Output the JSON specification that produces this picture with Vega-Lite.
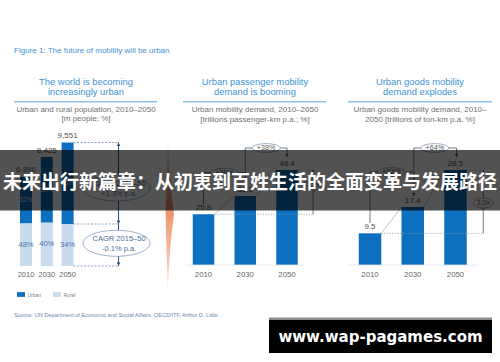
{
"$schema":"https://vega.github.io/schema/vega-lite/v6.json",
"width":500,"height":362,
"autosize":{"type":"fit","contains":"padding"},
"padding":0,
"background":"#ffffff",
"config":{"view":{"stroke":null},"font":"Liberation Sans"},
"datasets":{
 "pop":[
  {"year":2010,"area":"Rural","value":3310,"share":"48%","ord":1},
  {"year":2010,"area":"Urban","value":3586,"share":"52%","ord":2},
  {"year":2030,"area":"Rural","value":3370,"share":"40%","ord":1},
  {"year":2030,"area":"Urban","value":5055,"share":"60%","ord":2},
  {"year":2050,"area":"Rural","value":3247,"share":"34%","ord":1},
  {"year":2050,"area":"Urban","value":6304,"share":"66%","ord":2}
 ],
 "popTotal":[{"year":2010,"total":6896},{"year":2030,"total":8425},{"year":2050,"total":9551}],
 "passenger":[{"year":2010,"value":25.8},{"year":2030,"value":35.1},{"year":2050,"value":48.4}],
 "goods":[{"year":2010,"value":9.5},{"year":2030,"value":17.4},{"year":2050,"value":28.5}]
},
"resolve":{"scale":{"x":"independent","y":"independent","color":"independent"}},
"layer":[
 {"data":{"values":[{}]},
  "layer":[
   {"mark":{"type":"text","text":"Figure 1: The future of mobility will be urban","align":"left","baseline":"middle","fontSize":8,"fill":"#3d94d4"},
    "encoding":{"x":{"datum":14,"type":"quantitative","scale":{"domain":[0,500],"nice":false,"zero":false},"axis":null},
                "y":{"datum":50.5,"type":"quantitative","scale":{"domain":[0,362],"reverse":true,"nice":false,"zero":false},"axis":null}}},
   {"mark":{"type":"text","text":["The world is becoming","increasingly urban"],"align":"center","baseline":"middle","fontSize":9.4,"lineHeight":10.8,"fill":"#3d94d4"},
    "encoding":{"x":{"datum":86,"type":"quantitative","axis":null},"y":{"datum":81.7,"type":"quantitative","axis":null}}},
   {"mark":{"type":"text","text":["Urban passenger mobility","demand is booming"],"align":"center","baseline":"middle","fontSize":9.4,"lineHeight":10.8,"fill":"#3d94d4"},
    "encoding":{"x":{"datum":255,"type":"quantitative","axis":null},"y":{"datum":81.7,"type":"quantitative","axis":null}}},
   {"mark":{"type":"text","text":["Urban goods mobility","demand explodes"],"align":"center","baseline":"middle","fontSize":9.4,"lineHeight":10.8,"fill":"#3d94d4"},
    "encoding":{"x":{"datum":420,"type":"quantitative","axis":null},"y":{"datum":81.7,"type":"quantitative","axis":null}}},
   {"mark":{"type":"rule","stroke":"#8fc3ea","strokeWidth":1.4},
    "encoding":{"x":{"datum":14,"type":"quantitative","axis":null},"x2":{"datum":157},"y":{"datum":101.7,"type":"quantitative","axis":null}}},
   {"mark":{"type":"rule","stroke":"#8fc3ea","strokeWidth":1.4},
    "encoding":{"x":{"datum":183,"type":"quantitative","axis":null},"x2":{"datum":326},"y":{"datum":101.7,"type":"quantitative","axis":null}}},
   {"mark":{"type":"rule","stroke":"#8fc3ea","strokeWidth":1.4},
    "encoding":{"x":{"datum":348,"type":"quantitative","axis":null},"x2":{"datum":492},"y":{"datum":101.7,"type":"quantitative","axis":null}}},
   {"mark":{"type":"text","text":["Urban and rural population, 2010–2050","[m people; %]"],"align":"center","baseline":"middle","fontSize":8,"lineHeight":9.3,"fill":"#707070"},
    "encoding":{"x":{"datum":86,"type":"quantitative","axis":null},"y":{"datum":110,"type":"quantitative","axis":null}}},
   {"mark":{"type":"text","text":["Urban mobility demand, 2010–2050","[trillions passenger-km p.a.; %]"],"align":"center","baseline":"middle","fontSize":8,"lineHeight":9.8,"fill":"#707070"},
    "encoding":{"x":{"datum":255,"type":"quantitative","axis":null},"y":{"datum":110,"type":"quantitative","axis":null}}},
   {"mark":{"type":"text","text":["Urban goods mobility demand, 2010–","2050 [trillions of ton-km p.a. %]"],"align":"center","baseline":"middle","fontSize":8,"lineHeight":10.2,"fill":"#707070"},
    "encoding":{"x":{"datum":420,"type":"quantitative","axis":null},"y":{"datum":110,"type":"quantitative","axis":null}}},
   {"mark":{"type":"text","text":"Source: UN Department of Economic and Social Affairs, OECD/ITF,  Arthur D. Little","align":"left","baseline":"middle","fontSize":5.6,"fill":"#6a88ad"},
    "encoding":{"x":{"datum":14,"type":"quantitative","axis":null},"y":{"datum":315,"type":"quantitative","axis":null}}},
   {"mark":{"type":"point","shape":"M -0.02 -1 C 0 -0.4 0.05 -0.1 0.06 0 C 0.05 0.1 0 0.4 -0.02 1 C -0.04 0.4 -0.05 0.1 -0.05 0 C -0.05 -0.1 -0.04 -0.4 -0.02 -1 Z","size":23104,"filled":true,"opacity":1,"strokeWidth":0,
     "fill":{"gradient":"linear","x1":0,"y1":0,"x2":0,"y2":1,"stops":[{"offset":0,"color":"#fdf0e8"},{"offset":0.45,"color":"#ef8f66"},{"offset":1,"color":"#fbe0d0"}]}},
    "encoding":{"x":{"datum":169.5,"type":"quantitative","axis":null},"y":{"datum":214,"type":"quantitative","axis":null}}}
  ]},
 {"layer":[
   {"data":{"name":"pop"},
    "transform":[{"stack":"value","groupby":["year"],"sort":[{"field":"ord","order":"ascending"}],"as":["v0","v1"]}],
    "mark":{"type":"bar","size":12},
    "encoding":{
     "x":{"field":"year","type":"quantitative","scale":{"domain":[2010,2050],"range":[26,67.6],"padding":0,"nice":false,"zero":false},"axis":null},
     "y":{"field":"v0","type":"quantitative","scale":{"domain":[0,9551],"range":[266,142.5],"padding":0,"nice":false,"zero":false},"axis":null},
     "y2":{"field":"v1"},
     "color":{"field":"area","type":"nominal","scale":{"domain":["Urban","Rural"],"range":["#0c6fbf","#c8dcf0"]},
      "legend":{"orient":"none","legendX":17,"legendY":290.5,"direction":"horizontal","title":null,"symbolType":"M -1 -0.6 L 1 -0.6 L 1 0.6 L -1 0.6 Z","symbolSize":64,"symbolStrokeWidth":0,"symbolOpacity":1,"labelFontSize":5,"labelColor":"#808080","labelFont":"Liberation Sans","labelOffset":2.5,"columnPadding":11,"padding":0}}}},
   {"data":{"name":"pop"},
    "transform":[{"stack":"value","groupby":["year"],"sort":[{"field":"ord","order":"ascending"}],"as":["v0","v1"]},{"calculate":"(datum.v0+datum.v1)/2","as":"mid"}],
    "mark":{"type":"text","fontSize":7.6,"baseline":"middle","align":"center"},
    "encoding":{"x":{"field":"year","type":"quantitative","axis":null},"y":{"field":"mid","type":"quantitative","axis":null},
     "text":{"field":"share","type":"nominal"},
     "fill":{"condition":{"test":"datum.area === 'Urban'","value":"#d2e3f4"},"value":"#4f74a0"}}},
   {"data":{"name":"popTotal"},
    "mark":{"type":"text","fontSize":8,"baseline":"bottom","dy":-2.5,"fill":"#555555"},
    "encoding":{"x":{"field":"year","type":"quantitative","axis":null},"y":{"field":"total","type":"quantitative","axis":null},"text":{"field":"total","type":"quantitative","format":","}}},
   {"data":{"name":"popTotal"},
    "mark":{"type":"text","fontSize":7.5,"baseline":"middle","dy":9,"fill":"#666666"},
    "encoding":{"x":{"field":"year","type":"quantitative","axis":null},"y":{"datum":0,"type":"quantitative","axis":null},"text":{"field":"year","type":"nominal"}}},
   {"data":{"values":[{}]},"mark":{"type":"rule","stroke":"#6f8db0","strokeWidth":0.8,"strokeDash":[2,1.5]},
    "encoding":{"x":{"datum":2055.8,"type":"quantitative","axis":null},"x2":{"datum":2099},"y":{"datum":9551,"type":"quantitative","axis":null}}},
   {"data":{"values":[{}]},"mark":{"type":"rule","stroke":"#6f8db0","strokeWidth":0.8,"strokeDash":[2,1.5]},
    "encoding":{"x":{"datum":2055.8,"type":"quantitative","axis":null},"x2":{"datum":2099},"y":{"datum":3247,"type":"quantitative","axis":null}}},
   {"data":{"values":[{}]},"mark":{"type":"rule","stroke":"#6f8db0","strokeWidth":0.8,"strokeDash":[2,1.5]},
    "encoding":{"x":{"datum":2055.8,"type":"quantitative","axis":null},"x2":{"datum":2099},"y":{"datum":0,"type":"quantitative","axis":null}}},
   {"data":{"values":[{}]},"mark":{"type":"rule","stroke":"#24507e","strokeWidth":1},
    "encoding":{"x":{"datum":2099,"type":"quantitative","axis":null},"y":{"datum":0,"type":"quantitative","axis":null},"y2":{"datum":9551}}},
   {"data":{"values":[{}]},"mark":{"type":"point","shape":"triangle-up","size":14,"filled":true,"fill":"#24507e","opacity":1,"yOffset":2},
    "encoding":{"x":{"datum":2099,"type":"quantitative","axis":null},"y":{"datum":9551,"type":"quantitative","axis":null}}},
   {"data":{"values":[{}]},"mark":{"type":"point","shape":"triangle-down","size":14,"filled":true,"fill":"#24507e","opacity":1,"yOffset":-2},
    "encoding":{"x":{"datum":2099,"type":"quantitative","axis":null},"y":{"datum":3247,"type":"quantitative","axis":null}}},
   {"data":{"values":[{}]},"mark":{"type":"point","shape":"triangle-down","size":14,"filled":true,"fill":"#24507e","opacity":1,"yOffset":-2},
    "encoding":{"x":{"datum":2099,"type":"quantitative","axis":null},"y":{"datum":0,"type":"quantitative","axis":null}}},
   {"data":{"values":[{}]},"mark":{"type":"point","shape":"M -1 0 C -1 -0.214 -0.552 -0.388 0 -0.388 C 0.552 -0.388 1 -0.214 1 0 C 1 0.214 0.552 0.388 0 0.388 C -0.552 0.388 -1 0.214 -1 0 Z","size":4489,"filled":true,"fill":"#ffffff","stroke":"#7f9bbb","strokeWidth":0.8,"opacity":1},
    "encoding":{"x":{"datum":2097,"type":"quantitative","axis":null},"y":{"datum":6032,"type":"quantitative","axis":null}}},
   {"data":{"values":[{}]},"mark":{"type":"point","shape":"M -1 0 C -1 -0.214 -0.552 -0.388 0 -0.388 C 0.552 -0.388 1 -0.214 1 0 C 1 0.214 0.552 0.388 0 0.388 C -0.552 0.388 -1 0.214 -1 0 Z","size":4489,"filled":true,"fill":"#ffffff","stroke":"#7f9bbb","strokeWidth":0.8,"opacity":1},
    "encoding":{"x":{"datum":2097,"type":"quantitative","axis":null},"y":{"datum":1755,"type":"quantitative","axis":null}}},
   {"data":{"values":[{}]},"mark":{"type":"text","text":["CAGR 2015–50","+1.3% p.a."],"fontSize":7.5,"lineHeight":10,"baseline":"middle","align":"center","fill":"#4d6f95"},
    "encoding":{"x":{"datum":2099.5,"type":"quantitative","axis":null},"y":{"datum":6380,"type":"quantitative","axis":null}}},
   {"data":{"values":[{}]},"mark":{"type":"text","text":["CAGR 2015–50","-0.1% p.a."],"fontSize":7.5,"lineHeight":10,"baseline":"middle","align":"center","fill":"#4d6f95"},
    "encoding":{"x":{"datum":2099.5,"type":"quantitative","axis":null},"y":{"datum":2088,"type":"quantitative","axis":null}}}
 ]},
 {"layer":[
   {"data":{"name":"passenger"},"mark":{"type":"bar","size":21.5,"color":"#0c6fbf"},
    "encoding":{"x":{"field":"year","type":"quantitative","scale":{"domain":[2010,2050],"range":[203.5,287],"padding":0,"nice":false,"zero":false},"axis":null},
     "y":{"field":"value","type":"quantitative","scale":{"domain":[0,48.4],"range":[265,170],"padding":0,"nice":false,"zero":false},"axis":null}}},
   {"data":{"name":"passenger"},"mark":{"type":"text","fontSize":8,"baseline":"bottom","dy":-2.5,"fill":"#555555"},
    "encoding":{"x":{"field":"year","type":"quantitative","axis":null},"y":{"field":"value","type":"quantitative","axis":null},"text":{"field":"value","type":"quantitative"}}},
   {"data":{"name":"passenger"},"mark":{"type":"text","fontSize":7.8,"baseline":"middle","dy":10,"fill":"#666666"},
    "encoding":{"x":{"field":"year","type":"quantitative","axis":null},"y":{"datum":0,"type":"quantitative","axis":null},"text":{"field":"year","type":"nominal"}}},
   {"data":{"values":[{}]},"mark":{"type":"rule","stroke":"#dde3ea","strokeWidth":0.8},
    "encoding":{"x":{"datum":2001.6,"type":"quantitative","axis":null},"x2":{"datum":2058.6},"y":{"datum":0,"type":"quantitative","axis":null}}},
   {"data":{"values":[{}]},"mark":{"type":"rule","stroke":"#a5a5a5","strokeWidth":0.7},
    "encoding":{"x":{"datum":2015.15,"type":"quantitative","axis":null},"x2":{"datum":2024.85},"y":{"datum":25.8,"type":"quantitative","axis":null},"y2":{"datum":35.1}}},
   {"data":{"values":[{}]},"mark":{"type":"rule","stroke":"#a5a5a5","strokeWidth":0.7},
    "encoding":{"x":{"datum":2035.15,"type":"quantitative","axis":null},"x2":{"datum":2044.85},"y":{"datum":35.1,"type":"quantitative","axis":null},"y2":{"datum":48.4}}},
   {"data":{"values":[{}]},"mark":{"type":"rule","stroke":"#8d9aab","strokeWidth":0.8,"strokeDash":[1.2,1.5]},
    "encoding":{"x":{"datum":2015.15,"type":"quantitative","axis":null},"x2":{"datum":2062.5},"y":{"datum":25.8,"type":"quantitative","axis":null}}},
   {"data":{"values":[{}]},"mark":{"type":"rule","stroke":"#8d9aab","strokeWidth":0.8,"strokeDash":[1.2,1.5]},
    "encoding":{"x":{"datum":2055.15,"type":"quantitative","axis":null},"x2":{"datum":2062.5},"y":{"datum":48.4,"type":"quantitative","axis":null}}},
   {"data":{"values":[{}]},"mark":{"type":"rule","stroke":"#4a5868","strokeWidth":0.8},
    "encoding":{"x":{"datum":2062.5,"type":"quantitative","axis":null},"y":{"datum":25.8,"type":"quantitative","axis":null},"y2":{"datum":48.4}}},
   {"data":{"values":[{}]},"mark":{"type":"point","shape":"triangle-up","size":12,"filled":true,"fill":"#4a5868","opacity":1,"yOffset":2},
    "encoding":{"x":{"datum":2062.5,"type":"quantitative","axis":null},"y":{"datum":48.4,"type":"quantitative","axis":null}}},
   {"data":{"values":[{}]},"mark":{"type":"rule","stroke":"#4a5868","strokeWidth":0.8},
    "encoding":{"x":{"datum":2010,"type":"quantitative","axis":null},"y":{"datum":31,"type":"quantitative","axis":null},"y2":{"datum":47.1}}},
   {"data":{"values":[{}]},"mark":{"type":"rule","stroke":"#4a5868","strokeWidth":0.8},
    "encoding":{"x":{"datum":2010,"type":"quantitative","axis":null},"x2":{"datum":2030},"y":{"datum":47.1,"type":"quantitative","axis":null}}},
   {"data":{"values":[{}]},"mark":{"type":"rule","stroke":"#4a5868","strokeWidth":0.8},
    "encoding":{"x":{"datum":2030,"type":"quantitative","axis":null},"y":{"datum":42,"type":"quantitative","axis":null},"y2":{"datum":59.6}}},
   {"data":{"values":[{}]},"mark":{"type":"rule","stroke":"#4a5868","strokeWidth":0.8},
    "encoding":{"x":{"datum":2030,"type":"quantitative","axis":null},"x2":{"datum":2050},"y":{"datum":59.6,"type":"quantitative","axis":null}}},
   {"data":{"values":[{}]},"mark":{"type":"rule","stroke":"#4a5868","strokeWidth":0.8},
    "encoding":{"x":{"datum":2050,"type":"quantitative","axis":null},"y":{"datum":55,"type":"quantitative","axis":null},"y2":{"datum":59.6}}},
   {"data":{"values":[{}]},"mark":{"type":"point","shape":"triangle-down","size":12,"filled":true,"fill":"#4a5868","opacity":1,"yOffset":-1.5},
    "encoding":{"x":{"datum":2050,"type":"quantitative","axis":null},"y":{"datum":55,"type":"quantitative","axis":null}}},
   {"data":{"values":[{}]},"mark":{"type":"point","shape":"triangle-down","size":12,"filled":true,"fill":"#4a5868","opacity":1,"yOffset":-1.5},
    "encoding":{"x":{"datum":2030,"type":"quantitative","axis":null},"y":{"datum":42,"type":"quantitative","axis":null}}},
   {"data":{"values":[{}]},"mark":{"type":"point","shape":"M -1 0 C -1 -0.171 -0.552 -0.31 0 -0.31 C 0.552 -0.31 1 -0.171 1 0 C 1 0.171 0.552 0.31 0 0.31 C -0.552 0.31 -1 0.171 -1 0 Z","size":784,"filled":true,"fill":"#ffffff","stroke":"#7f9bbb","strokeWidth":0.8,"opacity":1},
    "encoding":{"x":{"datum":2020,"type":"quantitative","axis":null},"y":{"datum":47.1,"type":"quantitative","axis":null}}},
   {"data":{"values":[{}]},"mark":{"type":"point","shape":"M -1 0 C -1 -0.171 -0.552 -0.31 0 -0.31 C 0.552 -0.31 1 -0.171 1 0 C 1 0.171 0.552 0.31 0 0.31 C -0.552 0.31 -1 0.171 -1 0 Z","size":784,"filled":true,"fill":"#ffffff","stroke":"#7f9bbb","strokeWidth":0.8,"opacity":1},
    "encoding":{"x":{"datum":2040,"type":"quantitative","axis":null},"y":{"datum":59.6,"type":"quantitative","axis":null}}},
   {"data":{"values":[{}]},"mark":{"type":"point","shape":"M -1 0 C -1 -0.276 -0.552 -0.5 0 -0.5 C 0.552 -0.5 1 -0.276 1 0 C 1 0.276 0.552 0.5 0 0.5 C -0.552 0.5 -1 0.276 -1 0 Z","size":400,"filled":true,"fill":"#ffffff","stroke":"#7f9bbb","strokeWidth":0.8,"opacity":1},
    "encoding":{"x":{"datum":2062.5,"type":"quantitative","axis":null},"y":{"datum":40.8,"type":"quantitative","axis":null}}},
   {"data":{"values":[{}]},"mark":{"type":"text","text":"+36%","fontSize":7.2,"baseline":"middle","align":"center","fill":"#555555"},
    "encoding":{"x":{"datum":2020,"type":"quantitative","axis":null},"y":{"datum":47.1,"type":"quantitative","axis":null}}},
   {"data":{"values":[{}]},"mark":{"type":"text","text":"+38%","fontSize":7.2,"baseline":"middle","align":"center","fill":"#555555"},
    "encoding":{"x":{"datum":2040,"type":"quantitative","axis":null},"y":{"datum":59.6,"type":"quantitative","axis":null}}},
   {"data":{"values":[{}]},"mark":{"type":"text","text":"1.9x","fontSize":7.2,"baseline":"middle","align":"center","fill":"#555555"},
    "encoding":{"x":{"datum":2062.5,"type":"quantitative","axis":null},"y":{"datum":40.8,"type":"quantitative","axis":null}}}
 ]},
 {"layer":[
   {"data":{"name":"goods"},"mark":{"type":"bar","size":22.5,"color":"#0c6fbf"},
    "encoding":{"x":{"field":"year","type":"quantitative","scale":{"domain":[2010,2050],"range":[370,455.5],"padding":0,"nice":false,"zero":false},"axis":null},
     "y":{"field":"value","type":"quantitative","scale":{"domain":[0,28.5],"range":[265,170],"padding":0,"nice":false,"zero":false},"axis":null}}},
   {"data":{"name":"goods"},"mark":{"type":"text","fontSize":8,"baseline":"bottom","dy":-2.5,"fill":"#555555"},
    "encoding":{"x":{"field":"year","type":"quantitative","axis":null},"y":{"field":"value","type":"quantitative","axis":null},"text":{"field":"value","type":"quantitative"}}},
   {"data":{"name":"goods"},"mark":{"type":"text","fontSize":7.8,"baseline":"middle","dy":10,"fill":"#666666"},
    "encoding":{"x":{"field":"year","type":"quantitative","axis":null},"y":{"datum":0,"type":"quantitative","axis":null},"text":{"field":"year","type":"nominal"}}},
   {"data":{"values":[{}]},"mark":{"type":"rule","stroke":"#dde3ea","strokeWidth":0.8},
    "encoding":{"x":{"datum":1999.7,"type":"quantitative","axis":null},"x2":{"datum":2060.5},"y":{"datum":0,"type":"quantitative","axis":null}}},
   {"data":{"values":[{}]},"mark":{"type":"rule","stroke":"#a5a5a5","strokeWidth":0.7},
    "encoding":{"x":{"datum":2015.26,"type":"quantitative","axis":null},"x2":{"datum":2024.74},"y":{"datum":9.5,"type":"quantitative","axis":null},"y2":{"datum":17.4}}},
   {"data":{"values":[{}]},"mark":{"type":"rule","stroke":"#a5a5a5","strokeWidth":0.7},
    "encoding":{"x":{"datum":2035.26,"type":"quantitative","axis":null},"x2":{"datum":2044.74},"y":{"datum":17.4,"type":"quantitative","axis":null},"y2":{"datum":28.5}}},
   {"data":{"values":[{}]},"mark":{"type":"rule","stroke":"#8d9aab","strokeWidth":0.8,"strokeDash":[1.2,1.5]},
    "encoding":{"x":{"datum":2015.26,"type":"quantitative","axis":null},"x2":{"datum":2063},"y":{"datum":9.5,"type":"quantitative","axis":null}}},
   {"data":{"values":[{}]},"mark":{"type":"rule","stroke":"#8d9aab","strokeWidth":0.8,"strokeDash":[1.2,1.5]},
    "encoding":{"x":{"datum":2055.26,"type":"quantitative","axis":null},"x2":{"datum":2063},"y":{"datum":28.5,"type":"quantitative","axis":null}}},
   {"data":{"values":[{}]},"mark":{"type":"rule","stroke":"#4a5868","strokeWidth":0.8},
    "encoding":{"x":{"datum":2063,"type":"quantitative","axis":null},"y":{"datum":9.5,"type":"quantitative","axis":null},"y2":{"datum":28.5}}},
   {"data":{"values":[{}]},"mark":{"type":"point","shape":"triangle-up","size":12,"filled":true,"fill":"#4a5868","opacity":1,"yOffset":2},
    "encoding":{"x":{"datum":2063,"type":"quantitative","axis":null},"y":{"datum":28.5,"type":"quantitative","axis":null}}},
   {"data":{"values":[{}]},"mark":{"type":"rule","stroke":"#4a5868","strokeWidth":0.8},
    "encoding":{"x":{"datum":2010,"type":"quantitative","axis":null},"y":{"datum":12.6,"type":"quantitative","axis":null},"y2":{"datum":27.9}}},
   {"data":{"values":[{}]},"mark":{"type":"rule","stroke":"#4a5868","strokeWidth":0.8},
    "encoding":{"x":{"datum":2010,"type":"quantitative","axis":null},"x2":{"datum":2030},"y":{"datum":27.9,"type":"quantitative","axis":null}}},
   {"data":{"values":[{}]},"mark":{"type":"rule","stroke":"#4a5868","strokeWidth":0.8},
    "encoding":{"x":{"datum":2030.5,"type":"quantitative","axis":null},"y":{"datum":20.6,"type":"quantitative","axis":null},"y2":{"datum":35.1}}},
   {"data":{"values":[{}]},"mark":{"type":"rule","stroke":"#4a5868","strokeWidth":0.8},
    "encoding":{"x":{"datum":2030.5,"type":"quantitative","axis":null},"x2":{"datum":2050.5},"y":{"datum":35.1,"type":"quantitative","axis":null}}},
   {"data":{"values":[{}]},"mark":{"type":"rule","stroke":"#4a5868","strokeWidth":0.8},
    "encoding":{"x":{"datum":2050.5,"type":"quantitative","axis":null},"y":{"datum":32.4,"type":"quantitative","axis":null},"y2":{"datum":35.1}}},
   {"data":{"values":[{}]},"mark":{"type":"point","shape":"triangle-down","size":12,"filled":true,"fill":"#4a5868","opacity":1,"yOffset":-1.5},
    "encoding":{"x":{"datum":2050.5,"type":"quantitative","axis":null},"y":{"datum":32.4,"type":"quantitative","axis":null}}},
   {"data":{"values":[{}]},"mark":{"type":"point","shape":"triangle-down","size":12,"filled":true,"fill":"#4a5868","opacity":1,"yOffset":-1.5},
    "encoding":{"x":{"datum":2030.5,"type":"quantitative","axis":null},"y":{"datum":20.6,"type":"quantitative","axis":null}}},
   {"data":{"values":[{}]},"mark":{"type":"point","shape":"M -1 0 C -1 -0.171 -0.552 -0.31 0 -0.31 C 0.552 -0.31 1 -0.171 1 0 C 1 0.171 0.552 0.31 0 0.31 C -0.552 0.31 -1 0.171 -1 0 Z","size":784,"filled":true,"fill":"#ffffff","stroke":"#7f9bbb","strokeWidth":0.8,"opacity":1},
    "encoding":{"x":{"datum":2020,"type":"quantitative","axis":null},"y":{"datum":27.9,"type":"quantitative","axis":null}}},
   {"data":{"values":[{}]},"mark":{"type":"point","shape":"M -1 0 C -1 -0.171 -0.552 -0.31 0 -0.31 C 0.552 -0.31 1 -0.171 1 0 C 1 0.171 0.552 0.31 0 0.31 C -0.552 0.31 -1 0.171 -1 0 Z","size":784,"filled":true,"fill":"#ffffff","stroke":"#7f9bbb","strokeWidth":0.8,"opacity":1},
    "encoding":{"x":{"datum":2040.3,"type":"quantitative","axis":null},"y":{"datum":35.1,"type":"quantitative","axis":null}}},
   {"data":{"values":[{}]},"mark":{"type":"point","shape":"M -1 0 C -1 -0.276 -0.552 -0.5 0 -0.5 C 0.552 -0.5 1 -0.276 1 0 C 1 0.276 0.552 0.5 0 0.5 C -0.552 0.5 -1 0.276 -1 0 Z","size":400,"filled":true,"fill":"#ffffff","stroke":"#7f9bbb","strokeWidth":0.8,"opacity":1},
    "encoding":{"x":{"datum":2063,"type":"quantitative","axis":null},"y":{"datum":18.6,"type":"quantitative","axis":null}}},
   {"data":{"values":[{}]},"mark":{"type":"text","text":"+83%","fontSize":7.2,"baseline":"middle","align":"center","fill":"#555555"},
    "encoding":{"x":{"datum":2020,"type":"quantitative","axis":null},"y":{"datum":27.9,"type":"quantitative","axis":null}}},
   {"data":{"values":[{}]},"mark":{"type":"text","text":"+64%","fontSize":7.2,"baseline":"middle","align":"center","fill":"#555555"},
    "encoding":{"x":{"datum":2040.3,"type":"quantitative","axis":null},"y":{"datum":35.1,"type":"quantitative","axis":null}}},
   {"data":{"values":[{}]},"mark":{"type":"text","text":"3.0x","fontSize":7.2,"baseline":"middle","align":"center","fill":"#555555"},
    "encoding":{"x":{"datum":2063,"type":"quantitative","axis":null},"y":{"datum":18.6,"type":"quantitative","axis":null}}}
 ]},
 {"data":{"values":[{}]},
  "layer":[
   {"mark":{"type":"rect","fill":"#000000","opacity":0.68},
    "encoding":{"x":{"datum":0,"type":"quantitative","scale":{"domain":[0,500],"nice":false,"zero":false},"axis":null},"x2":{"datum":500},
                "y":{"datum":150,"type":"quantitative","scale":{"domain":[0,362],"reverse":true,"nice":false,"zero":false},"axis":null},"y2":{"datum":210.5}}},
   {"mark":{"type":"text","text":"未来出行新篇章：从初衷到百姓生活的全面变革与发展路径","font":"Noto Sans CJK SC","fontWeight":"bold","fontSize":19,"align":"center","baseline":"middle","fill":"#ffffff"},
    "encoding":{"x":{"datum":250,"type":"quantitative","axis":null},"y":{"datum":183,"type":"quantitative","axis":null}}},
   {"mark":{"type":"rect","fill":"#8c8c8c"},
    "encoding":{"x":{"datum":269,"type":"quantitative","axis":null},"x2":{"datum":492},"y":{"datum":317.5,"type":"quantitative","axis":null},"y2":{"datum":320}}},
   {"mark":{"type":"rect","fill":"#000000"},
    "encoding":{"x":{"datum":269,"type":"quantitative","axis":null},"x2":{"datum":492},"y":{"datum":320,"type":"quantitative","axis":null},"y2":{"datum":353}}},
   {"mark":{"type":"text","text":"www.wap-pagames.com","font":"DejaVu Sans","fontWeight":"bold","fontSize":15,"align":"center","baseline":"middle","fill":"#ffffff"},
    "encoding":{"x":{"datum":380.5,"type":"quantitative","axis":null},"y":{"datum":336.5,"type":"quantitative","axis":null}}}
  ]}
]
}
